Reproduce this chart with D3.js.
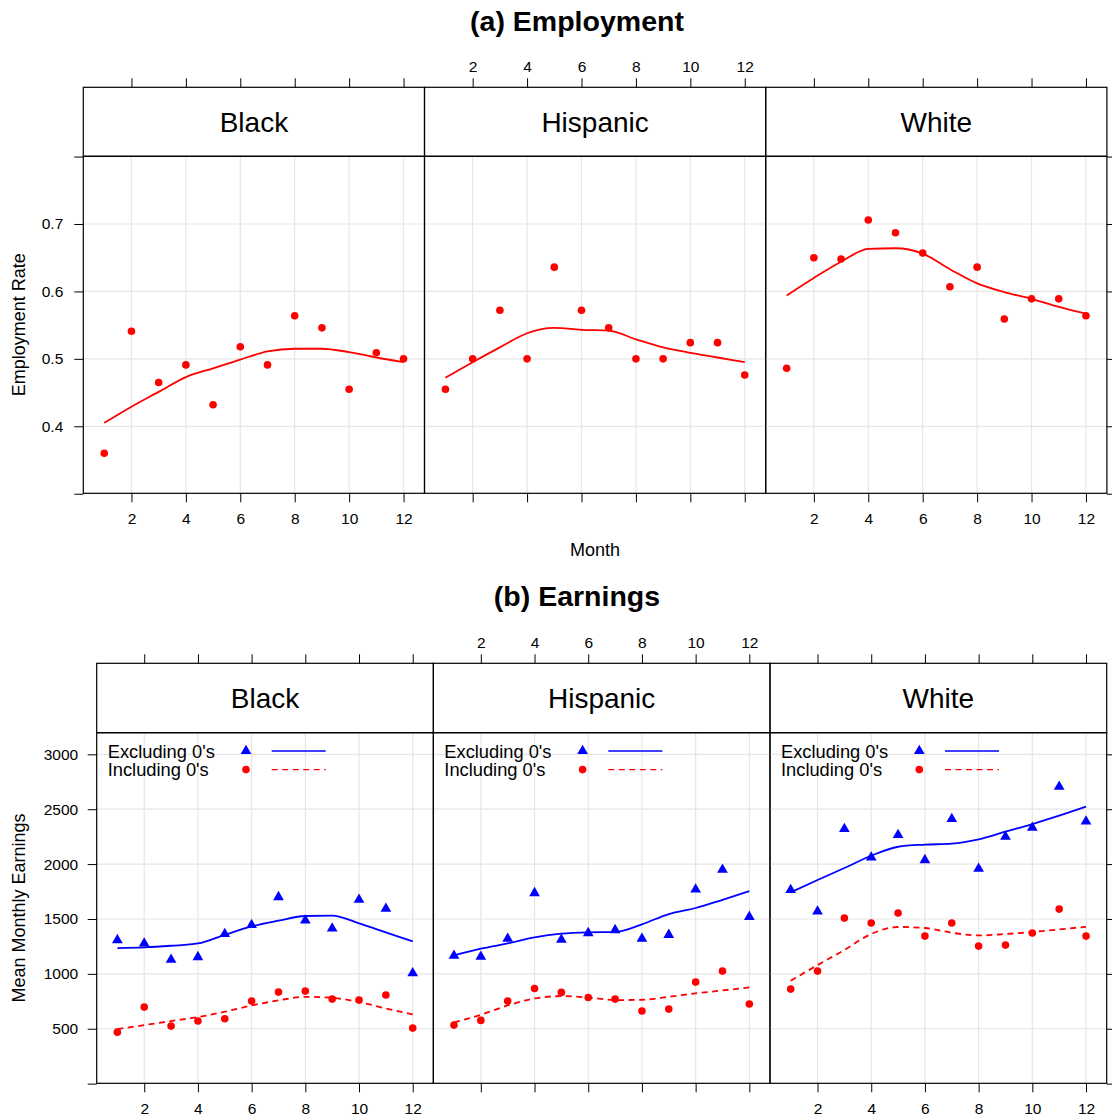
<!DOCTYPE html>
<html><head><meta charset="utf-8">
<script src="https://cdn.jsdelivr.net/npm/d3@7"></script>
<style>
body{margin:0;background:#fff}
svg{display:block}
text{font-family:"Liberation Sans",Arial,Helvetica,sans-serif;fill:#000}
</style>
</head><body><svg id="c" width="1112" height="1118"></svg>
<script>
// ---------- data ----------
const groups = ["Black", "Hispanic", "White"];
const months = [1,2,3,4,5,6,7,8,9,10,11,12];
const monthTicks = [2,4,6,8,10,12];
const empTicks = [0.3,0.4,0.5,0.6,0.7,0.8];
const empTickLabels = ["","0.4","0.5","0.6","0.7",""];
const earnTicks = [0,500,1000,1500,2000,2500,3000];
const earnTickLabels = ["","500","1000","1500","2000","2500","3000"];
const legendLabels = ["Excluding 0's", "Including 0's"];

// (a) employment rate, points
const empBlack    = [0.360,0.541,0.465,0.491,0.432,0.518,0.491,0.564,0.546,0.455,0.509,0.500];
const empHispanic = [0.455,0.500,0.572,0.500,0.636,0.572,0.546,0.500,0.500,0.524,0.524,0.476];
const empWhite    = [0.486,0.650,0.648,0.706,0.687,0.657,0.607,0.636,0.559,0.589,0.589,0.564];
// (a) smooth curves (at each month)
const empSmBlack    = [0.405,0.429,0.451,0.473,0.486,0.499,0.511,0.515,0.515,0.510,0.502,0.495];
const empSmHispanic = [0.472,0.495,0.517,0.538,0.546,0.543,0.542,0.529,0.517,0.509,0.502,0.495];
const empSmWhite    = [0.594,0.620,0.644,0.663,0.664,0.656,0.633,0.612,0.599,0.589,0.577,0.567];

// (b) earnings, points
const exclBlack    = [1308,1278,1129,1153,1363,1445,1700,1487,1414,1675,1593,1007];
const inclBlack    = [469,697,524,570,591,752,834,843,770,761,807,506];
const exclHispanic = [1165,1156,1320,1736,1311,1372,1399,1320,1356,1770,1949,1520];
const inclHispanic = [533,576,752,867,831,785,770,661,679,925,1025,725];
const exclWhite    = [1764,1569,2320,2061,2265,2037,2411,1958,2250,2332,2705,2389];
const inclWhite    = [861,1025,1508,1463,1554,1344,1463,1253,1262,1372,1590,1344];
// (b) smooth curves
const smExclBlack    = [1235,1241,1256,1277,1356,1432,1484,1527,1530,1460,1378,1296];
const smInclBlack    = [497,533,570,606,655,712,758,791,782,743,685,630];
const smExclHispanic = [1168,1229,1277,1332,1366,1378,1381,1451,1545,1600,1675,1754];
const smInclHispanic = [557,627,712,776,797,785,761,764,791,822,849,876];
const smExclWhite    = [1742,1855,1964,2076,2158,2177,2186,2225,2295,2365,2441,2523];
const smInclWhite    = [937,1080,1217,1363,1427,1418,1375,1350,1363,1381,1405,1429];

// ---------- drawing ----------
const svg = d3.select("#c");
const RED = "#FF0000", BLUE = "#0000FF", GRID = "#e6e6e6";
const TICK_FS = 15.5;
const DOT_R = 3.8, TRI_SIZE = 50;

function drawRow(cfg) {
  const g = svg.append("g");
  const y = d3.scaleLinear().domain(cfg.yDomain).range([cfg.bottom, cfg.stripBottom]);
  cfg.panels.forEach((p, i) => {
    const x0 = cfg.lefts[i], x1 = x0 + cfg.width;
    const x = d3.scaleLinear().domain([0.23, 12.77]).range([x0, x1]);
    const pg = g.append("g");
    // grid
    pg.selectAll("line.vg").data(monthTicks).join("line")
      .attr("x1", d => x(d)).attr("x2", d => x(d))
      .attr("y1", cfg.stripBottom).attr("y2", cfg.bottom)
      .attr("stroke", GRID).attr("stroke-width", 1.2);
    pg.selectAll("line.hg").data(cfg.yTicks.filter((d, k) => cfg.yLabels[k] !== "")).join("line")
      .attr("x1", x0).attr("x2", x1)
      .attr("y1", d => y(d)).attr("y2", d => y(d))
      .attr("stroke", GRID).attr("stroke-width", 1.2);

    // bottom axis
    const bAx = d3.axisBottom(x).tickValues(monthTicks).tickSize(9).tickPadding(10.5)
      .tickFormat(i === 1 ? "" : d3.format("d"));
    const bg = pg.append("g").attr("transform", `translate(0,${cfg.bottom})`).call(bAx);
    // top axis
    const tAx = d3.axisTop(x).tickValues(monthTicks).tickSize(9).tickPadding(6.5)
      .tickFormat(i === 1 ? d3.format("d") : "");
    const tg = pg.append("g").attr("transform", `translate(0,${cfg.top})`).call(tAx);
    [bg, tg].forEach(a => {
      a.select(".domain").remove();
      a.selectAll("line").attr("stroke", "#000").attr("stroke-width", 1);
      a.selectAll("text").attr("font-size", TICK_FS).attr("font-family", '"Liberation Sans",Arial,sans-serif');
    });
    if (i === 0) {
      const lAx = d3.axisLeft(y).tickValues(cfg.yTicks).tickSize(9).tickPadding(cfg.yPad)
        .tickFormat((d, k) => cfg.yLabels[k]);
      const lg = pg.append("g").attr("transform", `translate(${x0},0)`).call(lAx);
      lg.select(".domain").remove();
      lg.selectAll("line").attr("stroke", "#000").attr("stroke-width", 1);
      lg.selectAll("text").attr("font-size", TICK_FS).attr("font-family", '"Liberation Sans",Arial,sans-serif');
    }
    if (i === 2) {
      const rAx = d3.axisRight(y).tickValues(cfg.yTicks).tickSize(9).tickFormat("");
      const rg = pg.append("g").attr("transform", `translate(${x1},0)`).call(rAx);
      rg.select(".domain").remove();
      rg.selectAll("line").attr("stroke", "#000").attr("stroke-width", 1);
    }

    // series
    p.series.forEach(s => {
      const pts = months.map((m, k) => [m, s.values[k]]);
      const sm = months.map((m, k) => [m, s.smooth[k]]);
      pg.append("path").datum(sm)
        .attr("d", d3.line().x(d => x(d[0])).y(d => y(d[1])).curve(d3.curveMonotoneX))
        .attr("fill", "none").attr("stroke", s.color).attr("stroke-width", 1.8)
        .attr("stroke-dasharray", s.dash || null);
      if (s.shape === "triangle") {
        pg.selectAll(null).data(pts).join("path")
          .attr("d", d3.symbol(d3.symbolTriangle, TRI_SIZE))
          .attr("transform", d => `translate(${x(d[0])},${y(d[1])})`)
          .attr("fill", s.color);
      } else {
        pg.selectAll(null).data(pts).join("circle")
          .attr("cx", d => x(d[0])).attr("cy", d => y(d[1])).attr("r", DOT_R)
          .attr("fill", s.color);
      }
    });

    // legend
    if (cfg.legend) {
      const legItems = [
        {label: legendLabels[0], color: BLUE, shape: "triangle", dash: null},
        {label: legendLabels[1], color: RED, shape: "circle", dash: "6,4.5"}
      ];
      legItems.forEach((it, k) => {
        const ly = cfg.stripBottom + 18.3 + k * 18.6;
        pg.append("text").attr("x", x0 + 11).attr("y", ly + 6.5)
          .attr("font-size", 18.3).text(it.label);
        if (it.shape === "triangle") {
          pg.append("path").attr("d", d3.symbol(d3.symbolTriangle, TRI_SIZE)())
            .attr("transform", `translate(${x0 + 149.3},${ly})`).attr("fill", it.color);
        } else {
          pg.append("circle").attr("cx", x0 + 149.3).attr("cy", ly).attr("r", DOT_R).attr("fill", it.color);
        }
        pg.append("line").attr("x1", x0 + 175).attr("x2", x0 + 229)
          .attr("y1", ly).attr("y2", ly).attr("stroke", it.color).attr("stroke-width", 1.4)
          .attr("stroke-dasharray", it.dash);
      });
    }

    // strip
    pg.append("rect").attr("x", x0).attr("y", cfg.top).attr("width", cfg.width)
      .attr("height", cfg.stripBottom - cfg.top).attr("fill", "none")
      .attr("stroke", "#000").attr("stroke-width", 1.2);
    pg.append("text").attr("x", (x0 + x1) / 2)
      .attr("y", (cfg.top + cfg.stripBottom) / 2 + 10.1)
      .attr("text-anchor", "middle").attr("font-size", 28).text(groups[i]);
    // panel frame
    pg.append("rect").attr("x", x0).attr("y", cfg.stripBottom).attr("width", cfg.width)
      .attr("height", cfg.bottom - cfg.stripBottom).attr("fill", "none")
      .attr("stroke", "#000").attr("stroke-width", 1.2);
  });

  // titles
  svg.append("text").attr("x", cfg.titleX).attr("y", cfg.titleY).attr("text-anchor", "middle")
    .attr("font-size", 28.5).attr("font-weight", "bold").text(cfg.title);
  svg.append("text")
    .attr("transform", `translate(24.5,${(cfg.stripBottom + cfg.bottom) / 2}) rotate(-90)`)
    .attr("text-anchor", "middle").attr("font-size", 18).text(cfg.ylab);
  if (cfg.xlab) {
    svg.append("text").attr("x", (cfg.lefts[0] + cfg.lefts[2] + cfg.width) / 2).attr("y", 556)
      .attr("text-anchor", "middle").attr("font-size", 18).text(cfg.xlab);
  }
}

drawRow({
  title: "(a) Employment", titleX: 577, titleY: 31,
  ylab: "Employment Rate", xlab: "Month",
  top: 87.3, stripBottom: 156.3, bottom: 493.3,
  lefts: [83.3, 424.5, 765.7], width: 341.2,
  yDomain: [0.3006, 0.8004], yTicks: empTicks, yLabels: empTickLabels, yPad: 11,
  legend: false,
  panels: [
    {series: [{values: empBlack, smooth: empSmBlack, color: RED, shape: "circle"}]},
    {series: [{values: empHispanic, smooth: empSmHispanic, color: RED, shape: "circle"}]},
    {series: [{values: empWhite, smooth: empSmWhite, color: RED, shape: "circle"}]}
  ]
});

drawRow({
  title: "(b) Earnings", titleX: 577, titleY: 606,
  ylab: "Mean Monthly Earnings", xlab: null,
  top: 663.3, stripBottom: 732.7, bottom: 1083.3,
  lefts: [96.7, 433.3, 770], width: 336.7,
  yDomain: [3, 3197], yTicks: earnTicks, yLabels: earnTickLabels, yPad: 9.5,
  legend: true,
  panels: [
    {series: [
      {values: exclBlack, smooth: smExclBlack, color: BLUE, shape: "triangle"},
      {values: inclBlack, smooth: smInclBlack, color: RED, shape: "circle", dash: "6,4.5"}]},
    {series: [
      {values: exclHispanic, smooth: smExclHispanic, color: BLUE, shape: "triangle"},
      {values: inclHispanic, smooth: smInclHispanic, color: RED, shape: "circle", dash: "6,4.5"}]},
    {series: [
      {values: exclWhite, smooth: smExclWhite, color: BLUE, shape: "triangle"},
      {values: inclWhite, smooth: smInclWhite, color: RED, shape: "circle", dash: "6,4.5"}]}
  ]
});
</script>
</body></html>
